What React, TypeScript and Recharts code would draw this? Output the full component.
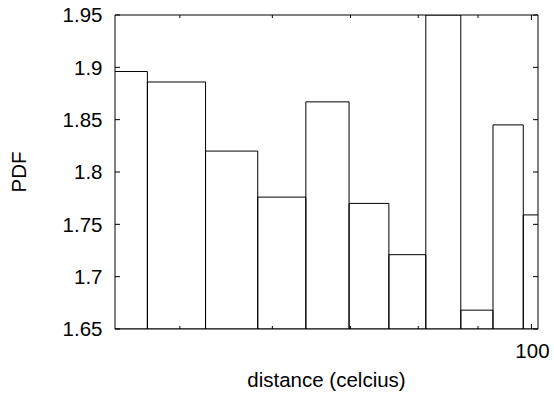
import { ComposedChart, XAxis, YAxis, ReferenceArea, Label, Scatter } from 'recharts';

// histogram bins (log x axis)
const binEdges = [41.2, 46.9, 52.6, 58.3, 64.1, 69.8, 75.5, 81.2, 87.0, 92.7, 98.4, 104.1];
const pdf = [1.896, 1.886, 1.82, 1.776, 1.867, 1.77, 1.721, 1.95, 1.668, 1.845, 1.759];
const xTicks = [50, 60, 70, 80, 90, 100];
const xLabelled = [100];
const yTicks = [1.65, 1.7, 1.75, 1.8, 1.85, 1.9, 1.95];
const xDomain = [44, 101.3];
const yDomain = [1.65, 1.95];

const bins = pdf.map((v, i) => ({
  lo: binEdges[i],
  hi: binEdges[i + 1],
  mid: Math.sqrt(binEdges[i] * binEdges[i + 1]),
  pdf: v,
}));

const FONT = '"Liberation Sans", Arial, Helvetica, sans-serif';
const FS = 20.5;

function BottomTick({ x, y, payload }: any) {
  const major = xLabelled.includes(payload.value);
  return (
    <g>
      <line x1={x} x2={x} y1={y} y2={y - (major ? 5 : 3)} stroke="#000" />
      {major && (
        <text x={x + 1} y={y + 28.5} textAnchor="middle" fontSize={FS} fontFamily={FONT} fill="#000">
          {payload.value}
        </text>
      )}
    </g>
  );
}

function TopTick({ x, y, payload }: any) {
  const major = xLabelled.includes(payload.value);
  return <line x1={x} x2={x} y1={y} y2={y + (major ? 5 : 3)} stroke="#000" />;
}

function LeftTick({ x, y, payload }: any) {
  return (
    <g>
      <line x1={x} x2={x + 5} y1={y} y2={y} stroke="#000" />
      <text x={x - 12.5} y={y} dy="0.36em" textAnchor="end" fontSize={FS} fontFamily={FONT} fill="#000">
        {payload.value}
      </text>
    </g>
  );
}

function RightTick({ x, y }: any) {
  return <line x1={x} x2={x - 5} y1={y} y2={y} stroke="#000" />;
}

const noDot = () => <g />;

export default function App() {
  return (
    <div style={{ position: 'absolute', left: 0, top: 0, background: '#fff' }}>
      <ComposedChart width={554} height={397} data={bins} margin={{ top: 14, right: 15, bottom: 0, left: 0 }}>
        <XAxis
          dataKey="mid"
          type="number"
          scale="log"
          domain={xDomain}
          allowDataOverflow
          ticks={xTicks}
          tick={(p: any) => <BottomTick {...p} />}
          tickLine={false}
          tickSize={0}
          tickMargin={0}
          axisLine={{ stroke: '#000' }}
          height={68}
        >
          <Label
            content={({ viewBox }: any) => (
              <text
                x={viewBox.x + viewBox.width / 2}
                y={viewBox.y + 58}
                textAnchor="middle"
                fontSize={FS}
                fontFamily={FONT}
                fill="#000"
              >
                distance (celcius)
              </text>
            )}
          />
        </XAxis>
        <XAxis
          xAxisId="top"
          dataKey="mid"
          orientation="top"
          type="number"
          scale="log"
          domain={xDomain}
          allowDataOverflow
          ticks={xTicks}
          tick={(p: any) => <TopTick {...p} />}
          tickLine={false}
          tickSize={0}
          tickMargin={0}
          axisLine={{ stroke: '#000' }}
          height={1}
        />
        <YAxis
          dataKey="pdf"
          type="number"
          domain={yDomain}
          allowDataOverflow
          ticks={yTicks}
          tick={(p: any) => <LeftTick {...p} />}
          tickLine={false}
          tickSize={0}
          tickMargin={0}
          axisLine={{ stroke: '#000' }}
          width={115}
        >
          <Label
            content={({ viewBox }: any) => {
              const cx = viewBox.x + 18.5;
              const cy = viewBox.y + viewBox.height / 2;
              return (
                <text
                  x={cx}
                  y={cy}
                  dy="0.36em"
                  textAnchor="middle"
                  transform={`rotate(-90 ${cx} ${cy})`}
                  fontSize={FS}
                  fontFamily={FONT}
                  fill="#000"
                >
                  PDF
                </text>
              );
            }}
          />
        </YAxis>
        <YAxis
          yAxisId="right"
          dataKey="pdf"
          orientation="right"
          type="number"
          domain={yDomain}
          allowDataOverflow
          ticks={yTicks}
          tick={(p: any) => <RightTick {...p} />}
          tickLine={false}
          tickSize={0}
          tickMargin={0}
          axisLine={{ stroke: '#000' }}
          width={1}
        />
        <Scatter dataKey="pdf" shape={noDot} isAnimationActive={false} />
        <Scatter dataKey="pdf" xAxisId="top" yAxisId="right" shape={noDot} isAnimationActive={false} />
        {bins.map((b, i) => (
          <ReferenceArea
            key={i}
            x1={b.lo}
            x2={b.hi}
            y1={yDomain[0]}
            y2={b.pdf}
            fill="none"
            stroke="#000"
            strokeWidth={1}
            ifOverflow="hidden"
          />
        ))}
      </ComposedChart>
    </div>
  );
}
